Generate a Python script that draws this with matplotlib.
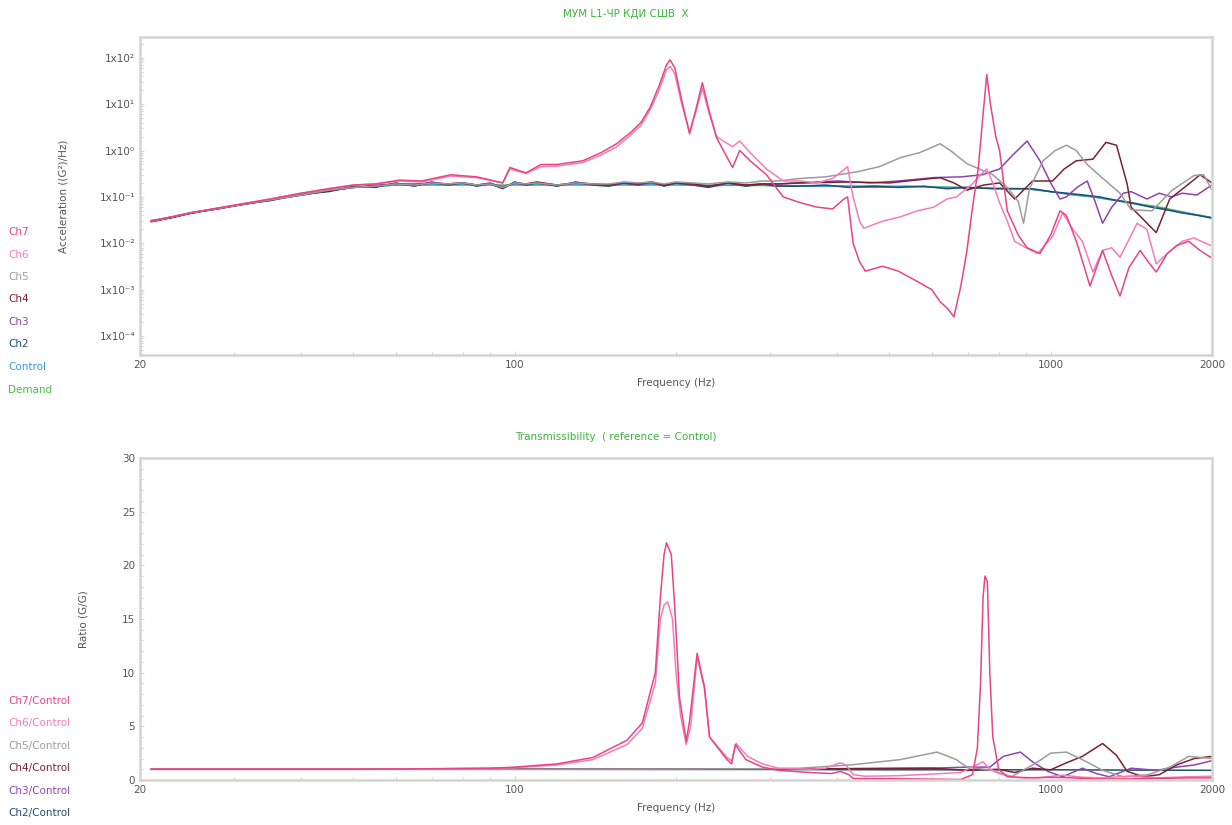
import numpy as np
import matplotlib
matplotlib.use("Agg")
import matplotlib.pyplot as plt
from matplotlib.ticker import FixedLocator, FuncFormatter, LogLocator, NullFormatter, MultipleLocator

# ---------------- DATA: top plot (PSD, G^2/Hz) ----------------
f_lo = [21, 23, 25, 28, 31, 35, 40, 45, 50, 55, 60, 65, 70, 75, 80, 85, 90, 95,
        100, 105, 110, 120, 130, 140, 150, 160, 170, 180, 190, 200, 215, 230, 250,
        270, 290, 310]

demand_f = [21, 25, 30, 40, 50, 60, 100, 200, 500, 900, 1200, 1600, 2000]
demand_v = [0.030, 0.045, 0.065, 0.11, 0.16, 0.18, 0.18, 0.18, 0.17, 0.15, 0.10, 0.06, 0.035]

control_f = f_lo + [340, 400, 470, 540, 620, 700, 800, 900, 1000, 1100, 1200, 1350, 1500, 1700, 1850, 2000]
control_v = [0.030, 0.037, 0.045, 0.056, 0.068, 0.085, 0.11, 0.135, 0.16, 0.17, 0.18, 0.18, 0.19,
             0.18, 0.19, 0.18, 0.19, 0.17, 0.19, 0.18, 0.19, 0.18, 0.19, 0.18, 0.18, 0.19, 0.18,
             0.19, 0.18, 0.19, 0.18, 0.17, 0.18, 0.18, 0.18, 0.17,
             0.17, 0.17, 0.16, 0.17, 0.16, 0.16, 0.15, 0.15, 0.13, 0.11, 0.10, 0.08, 0.065, 0.05, 0.042, 0.036]

ch2_f = f_lo + [340, 380, 420, 470, 520, 580, 640, 700, 780, 860, 925, 1000, 1070, 1150,
                1233, 1320, 1413, 1520, 1640, 1760, 1880, 2000]
ch2_v = [0.030, 0.036, 0.046, 0.055, 0.07, 0.083, 0.115, 0.13, 0.17, 0.16, 0.20, 0.17, 0.21,
         0.18, 0.20, 0.17, 0.19, 0.15, 0.21, 0.18, 0.20, 0.17, 0.21, 0.18, 0.17, 0.20, 0.18,
         0.21, 0.17, 0.20, 0.18, 0.16, 0.20, 0.17, 0.19, 0.17,
         0.17, 0.18, 0.16, 0.17, 0.16, 0.17, 0.15, 0.16, 0.15, 0.15, 0.15, 0.13, 0.12, 0.11,
         0.10, 0.085, 0.075, 0.062, 0.053, 0.045, 0.040, 0.035]

ch3_f = f_lo + [340, 400, 460, 520, 605, 680, 746, 803, 850, 904, 955, 1000, 1041, 1070,
                1120, 1170, 1210, 1250, 1300, 1367, 1413, 1512, 1595, 1680, 1760, 1875, 2000]
ch3_v = [0.031, 0.037, 0.045, 0.057, 0.069, 0.086, 0.11, 0.14, 0.16, 0.18, 0.19, 0.19, 0.20,
         0.19, 0.20, 0.18, 0.20, 0.16, 0.20, 0.19, 0.20, 0.18, 0.20, 0.19, 0.18, 0.20, 0.19,
         0.20, 0.18, 0.20, 0.19, 0.17, 0.20, 0.18, 0.19, 0.19,
         0.20, 0.22, 0.20, 0.22, 0.26, 0.27, 0.30, 0.40, 0.80, 1.6, 0.6, 0.2, 0.09, 0.10,
         0.16, 0.22, 0.08, 0.027, 0.06, 0.12, 0.13, 0.09, 0.12, 0.10, 0.12, 0.11, 0.18]

ch4_f = f_lo + [340, 420, 500, 560, 622, 660, 698, 750, 803, 857, 925, 1008, 1060, 1116,
                1199, 1268, 1327, 1389, 1413, 1500, 1574, 1668, 1810, 1900, 2000]
ch4_v = [0.029, 0.036, 0.045, 0.056, 0.068, 0.086, 0.11, 0.135, 0.16, 0.17, 0.19, 0.18, 0.20,
         0.19, 0.20, 0.18, 0.19, 0.16, 0.20, 0.19, 0.21, 0.18, 0.20, 0.19, 0.18, 0.20, 0.19,
         0.21, 0.18, 0.20, 0.19, 0.17, 0.20, 0.18, 0.19, 0.19,
         0.20, 0.21, 0.20, 0.23, 0.26, 0.20, 0.14, 0.18, 0.20, 0.09, 0.22, 0.22, 0.40, 0.60,
         0.65, 1.5, 1.3, 0.19, 0.06, 0.03, 0.017, 0.09, 0.19, 0.30, 0.20]

ch5_f = f_lo + [341, 380, 437, 480, 524, 570, 622, 650, 698, 780, 830, 870, 890, 913, 968,
                1020, 1070, 1116, 1170, 1233, 1347, 1413, 1544, 1687, 1853, 1930, 2000]
ch5_v = [0.030, 0.037, 0.046, 0.056, 0.069, 0.086, 0.11, 0.14, 0.16, 0.17, 0.19, 0.18, 0.20,
         0.19, 0.20, 0.18, 0.19, 0.16, 0.20, 0.19, 0.20, 0.18, 0.20, 0.19, 0.19, 0.21, 0.20,
         0.21, 0.19, 0.21, 0.20, 0.19, 0.21, 0.20, 0.22, 0.22,
         0.25, 0.27, 0.35, 0.45, 0.70, 0.90, 1.4, 1.0, 0.52, 0.30, 0.16, 0.08, 0.027, 0.15, 0.60,
         1.0, 1.3, 1.0, 0.5, 0.29, 0.12, 0.053, 0.05, 0.14, 0.29, 0.30, 0.14]

ch6_f = [21, 25, 30, 35, 40, 45, 50, 55, 61, 67, 76, 85, 95, 98, 105, 112, 120, 134, 145, 155,
         165, 172, 179, 186, 192, 195, 199, 205, 212, 218, 224, 230, 238, 255, 263, 275, 295,
         317, 341, 367, 392, 410, 418, 428, 440, 448, 486, 524, 564, 605, 641, 667, 714, 740,
         760, 780, 803, 830, 857, 900, 946, 1008, 1053, 1100, 1146, 1199, 1250, 1300, 1347,
         1400, 1450, 1512, 1574, 1650, 1760, 1850, 1987]
ch6_v = [0.030, 0.046, 0.066, 0.09, 0.12, 0.15, 0.18, 0.19, 0.22, 0.21, 0.28, 0.26, 0.2, 0.40,
         0.32, 0.45, 0.46, 0.55, 0.8, 1.2, 2.2, 3.5, 7.5, 20, 55, 65, 45, 10, 2.5, 7, 22, 7,
         2.0, 1.2, 1.6, 0.9, 0.4, 0.22, 0.22, 0.20, 0.25, 0.37, 0.45, 0.10, 0.03, 0.021, 0.03,
         0.037, 0.05, 0.06, 0.09, 0.10, 0.19, 0.30, 0.40, 0.20, 0.075, 0.03, 0.011, 0.008,
         0.006, 0.014, 0.045, 0.02, 0.011, 0.0024, 0.007, 0.008, 0.005, 0.012, 0.027, 0.02,
         0.0036, 0.006, 0.011, 0.013, 0.009]

ch7_f = [21, 25, 30, 35, 40, 45, 50, 55, 61, 67, 76, 85, 95, 98, 105, 112, 120, 134, 145, 155,
         165, 172, 179, 186, 192, 195, 199, 205, 212, 218, 224, 230, 238, 255, 263, 275, 295,
         317, 341, 367, 392, 410, 418, 428, 440, 451, 486, 520, 564, 600, 622, 641, 660, 680,
         698, 715, 733, 748, 760, 772, 790, 803, 830, 870, 904, 955, 1000, 1041, 1070, 1120,
         1184, 1250, 1300, 1347, 1400, 1469, 1520, 1574, 1650, 1720, 1810, 1900, 1987]
ch7_v = [0.030, 0.046, 0.066, 0.09, 0.12, 0.15, 0.18, 0.19, 0.23, 0.22, 0.30, 0.27, 0.2, 0.43,
         0.33, 0.50, 0.50, 0.60, 0.9, 1.4, 2.5, 4.0, 8.6, 25, 70, 90, 60, 12, 2.3, 8, 29, 8,
         1.9, 0.43, 1.0, 0.6, 0.3, 0.10, 0.075, 0.06, 0.055, 0.087, 0.10, 0.01, 0.004, 0.0025,
         0.0032, 0.0025, 0.0015, 0.001, 0.00055, 0.0004, 0.00026, 0.0012, 0.007, 0.06, 0.43,
         6, 43, 10, 2, 1.0, 0.05, 0.015, 0.008, 0.006, 0.015, 0.05, 0.04, 0.01, 0.0012, 0.007,
         0.002, 0.00073, 0.003, 0.007, 0.004, 0.0024, 0.006, 0.009, 0.011, 0.007, 0.005]

# ---------------- DATA: bottom plot (ratio G/G) ----------------
r7_f = [21, 30, 50, 70, 90, 100, 120, 140, 162, 173, 183, 187, 190, 192, 196, 199, 203, 209,
        212, 219, 226, 231, 249, 254, 258, 270, 290, 310, 355, 390, 405, 420, 428, 450, 500,
        600, 680, 715, 730, 740, 748, 754, 762, 770, 780, 800, 830, 900, 1000, 1100, 1200,
        1400, 1600, 1800, 2000]
r7_v = [1.0, 1.0, 1.0, 1.05, 1.1, 1.2, 1.5, 2.1, 3.7, 5.3, 10, 17, 21, 22.1, 21, 16, 7.7, 3.6,
        5.5, 11.8, 8.7, 4.0, 1.9, 1.5, 3.3, 1.9, 1.2, 0.9, 0.7, 0.6, 0.8, 0.5, 0.15, 0.12,
        0.12, 0.08, 0.05, 0.5, 3, 9, 17, 19, 18.5, 10, 4, 1, 0.3, 0.2, 0.25, 0.2, 0.1, 0.1,
        0.15, 0.2, 0.2]

r6_f = [21, 30, 50, 70, 90, 100, 120, 140, 162, 173, 183, 187, 190, 193, 197, 200, 204, 209,
        213, 219, 226, 231, 249, 254, 259, 272, 290, 310, 355, 380, 405, 415, 428, 450, 520,
        600, 680, 748, 770, 800, 860, 950, 1050, 1150, 1250, 1400, 1600, 1800, 2000]
r6_v = [1.0, 1.0, 1.0, 1.05, 1.1, 1.15, 1.4, 1.9, 3.3, 4.8, 9, 15, 16.3, 16.6, 15, 10, 6, 3.3,
        5, 11.5, 8.5, 4, 2.1, 1.8, 3.4, 2.2, 1.5, 1.1, 1.0, 1.1, 1.6, 1.4, 0.5, 0.35, 0.4,
        0.55, 0.7, 1.7, 1.0, 0.6, 0.25, 0.2, 0.45, 0.25, 0.2, 0.35, 0.2, 0.3, 0.35]

r5_f = [21, 50, 100, 200, 300, 341, 423, 524, 614, 667, 698, 780, 845, 940, 1000, 1070, 1146,
        1250, 1367, 1522, 1668, 1810, 2000]
r5_v = [1.0, 1.0, 1.0, 1.02, 1.05, 1.1, 1.4, 1.9, 2.6, 1.9, 1.2, 0.9, 0.3, 1.6, 2.5, 2.6, 1.9,
        0.9, 0.3, 0.5, 1.2, 2.2, 2.0]

r4_f = [21, 50, 100, 200, 400, 600, 700, 800, 857, 925, 1000, 1070, 1146, 1250, 1327, 1389,
        1490, 1595, 1718, 1853, 2000]
r4_v = [1.0, 1.0, 1.0, 1.0, 1.05, 1.1, 0.9, 1.0, 0.7, 1.1, 0.95, 1.6, 2.2, 3.4, 2.3, 0.8, 0.3,
        0.5, 1.4, 2.0, 2.2]

r3_f = [21, 50, 100, 200, 400, 600, 700, 770, 816, 878, 925, 988, 1053, 1146, 1217, 1286,
        1413, 1574, 1718, 1853, 2000]
r3_v = [1.0, 1.0, 1.0, 1.0, 1.05, 1.1, 1.2, 1.2, 2.2, 2.6, 1.7, 0.8, 0.3, 1.1, 0.6, 0.3, 1.1,
        0.9, 1.2, 1.4, 1.8]

r2_f = [21, 100, 300, 500, 1000, 1500, 2000]
r2_v = [1.0, 1.0, 0.98, 0.95, 0.95, 0.92, 0.9]

top_labels = ["Ch7", "Ch6", "Ch5", "Ch4", "Ch3", "Ch2", "Control", "Demand"]
bot_labels = ["Ch7/Control", "Ch6/Control", "Ch5/Control", "Ch4/Control", "Ch3/Control", "Ch2/Control"]
x_ticks = [20, 100, 1000, 2000]
top_yticks = [1e-4, 1e-3, 1e-2, 1e-1, 1e0, 1e1, 1e2]
bot_yticks = [0, 5, 10, 15, 20, 25, 30]

# ---------------- STYLE ----------------
colors = {
    "Ch7": "#e84582", "Ch6": "#f47cb8", "Ch5": "#9c9c9c", "Ch4": "#7a2233",
    "Ch3": "#8e44b0", "Ch2": "#1f4f6f", "Control": "#3a9ad9", "Demand": "#46c046",
}
tick_col = "#555555"
spine_col = "#d4d4d4"

fig = plt.figure(figsize=(12.32, 8.25), dpi=100)
ax1 = fig.add_axes([140/1232, 1-355/825, (1212-140)/1232, (355-37)/825])
ax2 = fig.add_axes([140/1232, 1-780/825, (1212-140)/1232, (780-458)/825])

lw = 1.1
ax1.plot(demand_f, demand_v, color=colors["Demand"], lw=lw)
ax1.plot(control_f, control_v, color=colors["Control"], lw=lw)
ax1.plot(ch2_f, ch2_v, color=colors["Ch2"], lw=lw)
ax1.plot(ch3_f, ch3_v, color=colors["Ch3"], lw=lw)
ax1.plot(ch4_f, ch4_v, color=colors["Ch4"], lw=lw)
ax1.plot(ch5_f, ch5_v, color=colors["Ch5"], lw=lw)
ax1.plot(ch6_f, ch6_v, color=colors["Ch6"], lw=lw)
ax1.plot(ch7_f, ch7_v, color=colors["Ch7"], lw=lw)

ax2.plot(r2_f, r2_v, color=colors["Ch2"], lw=lw)
ax2.plot(r3_f, r3_v, color=colors["Ch3"], lw=lw)
ax2.plot(r4_f, r4_v, color=colors["Ch4"], lw=lw)
ax2.plot(r5_f, r5_v, color=colors["Ch5"], lw=lw)
ax2.plot(r6_f, r6_v, color=colors["Ch6"], lw=lw)
ax2.plot(r7_f, r7_v, color=colors["Ch7"], lw=lw)

def sup(n):
    table = str.maketrans("-0123456789", "⁻⁰¹²³⁴⁵⁶⁷⁸⁹")
    return str(n).translate(table)

for ax in (ax1, ax2):
    ax.set_xscale("log")
    ax.set_xlim(20, 2000)
    ax.xaxis.set_major_locator(FixedLocator(x_ticks))
    ax.xaxis.set_major_formatter(FuncFormatter(lambda v, p: f"{int(round(v))}"))
    ax.xaxis.set_minor_locator(LogLocator(base=10, subs=np.arange(2, 10)))
    ax.xaxis.set_minor_formatter(NullFormatter())
    for s in ax.spines.values():
        s.set_color(spine_col)
        s.set_linewidth(1.8)
    ax.tick_params(which="both", colors=spine_col, labelcolor=tick_col, labelsize=7.5,
                   direction="in", length=3, width=0.8)
    ax.tick_params(which="minor", length=2)
    ax.set_xlabel("Frequency (Hz)", fontsize=7.5, color=tick_col, labelpad=6)

ax1.set_yscale("log")
ax1.set_ylim(3.9e-5, 2.8e2)
ax1.yaxis.set_major_locator(FixedLocator(top_yticks))
ax1.yaxis.set_major_formatter(FuncFormatter(lambda v, p: "1x10" + sup(int(round(np.log10(v))))))
ax1.yaxis.set_minor_formatter(NullFormatter())
ax1.set_ylabel("Acceleration ((G²)/Hz)", fontsize=7.5, color=tick_col, labelpad=22)

ax2.set_ylim(0, 30)
ax2.yaxis.set_major_locator(FixedLocator(bot_yticks))
ax2.yaxis.set_minor_locator(MultipleLocator(1))
ax2.set_ylabel("Ratio (G/G)", fontsize=7.5, color=tick_col, labelpad=24)

fig.text(0.508, 1-14/825, "МУМ L1-ЧР КДИ СШВ  X", ha="center", va="center",
         fontsize=7.5, color="#3cb43c")
fig.text(0.50, 1-437/825, "Transmissibility  ( reference = Control)", ha="center", va="center",
         fontsize=7.5, color="#3cb43c")

top_y = [232, 255, 277, 299, 322, 344, 367, 390]
for lab, y in zip(top_labels, top_y):
    fig.text(8/1232, 1-y/825, lab, ha="left", va="center", fontsize=7.5, color=colors[lab])

bot_y = [701, 723, 746, 768, 791, 813]
for lab, y in zip(bot_labels, bot_y):
    fig.text(8/1232, 1-y/825, lab, ha="left", va="center", fontsize=7.5,
             color=colors[lab.split("/")[0]])

fig.savefig("out.png", dpi=100, facecolor="white")
